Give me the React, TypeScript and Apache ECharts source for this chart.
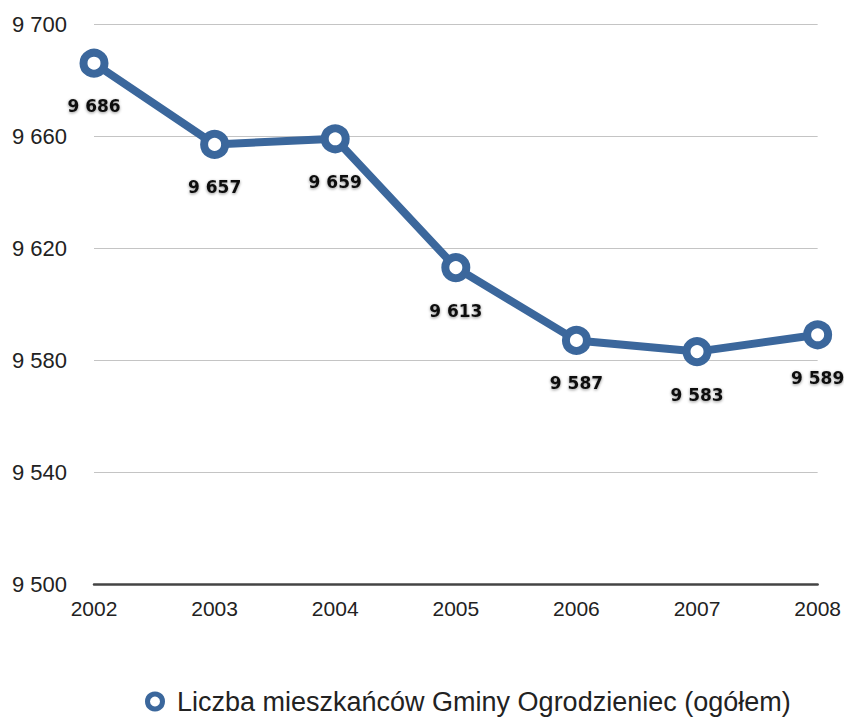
import React, { useEffect, useRef } from "react";
import * as echarts from "echarts";

const years = ["2002", "2003", "2004", "2005", "2006", "2007", "2008"];
const residents = [9686, 9657, 9659, 9613, 9587, 9583, 9589];
const seriesName = "Liczba mieszkańców Gminy Ogrodzieniec (ogółem)";

const fmt = (v: number) => {
  const s = String(Math.round(v));
  return s.replace(/\B(?=(\d{3})+(?!\d))/g, " ");
};

export default function App() {
  const ref = useRef<HTMLDivElement>(null);
  useEffect(() => {
    const chart = echarts.init(ref.current!, null, { renderer: "svg" });
    const font = "'Liberation Sans', Arial, Helvetica, sans-serif";
    const blue = "#3b679c";
    chart.setOption({
      animation: false,
      backgroundColor: "#ffffff",
      textStyle: { fontFamily: font },
      grid: { left: 94, right: 26, top: 24, bottom: 134, containLabel: false },
      xAxis: {
        type: "category",
        data: years,
        boundaryGap: false,
        axisLine: { show: true, lineStyle: { color: "#444", width: 2.5 } },
        axisTick: { show: false },
        axisLabel: { color: "#222", fontSize: 21, margin: 14, fontFamily: font },
        splitLine: { show: false },
      },
      yAxis: {
        type: "value",
        min: 9500,
        max: 9700,
        interval: 40,
        axisLine: { show: false },
        axisTick: { show: false },
        axisLabel: {
          color: "#222",
          fontSize: 22,
          margin: 27,
          fontFamily: font,
          formatter: (v: number) => fmt(v),
        },
        splitLine: { show: true, lineStyle: { color: "#c4c4c4", width: 1.2 } },
      },
      legend: {
        top: 688,
        left: 145,
        padding: 0,
        itemWidth: 18,
        itemHeight: 15,
        itemGap: 10,
        textStyle: { color: "#222", fontSize: 27, fontFamily: font, padding: [0, 0, 0, 8] },
        data: [
          {
            name: seriesName,
            icon: "circle",
            itemStyle: { color: "#ffffff", borderColor: blue, borderWidth: 5 },
          },
        ],
      },
      series: [
        {
          name: seriesName,
          type: "line",
          data: residents,
          symbol: "circle",
          symbolSize: 21,
          lineStyle: { color: blue, width: 8 },
          itemStyle: { color: "#ffffff", borderColor: blue, borderWidth: 8 },
          label: {
            show: true,
            position: "bottom",
            distance: 20,
            color: "#111",
            fontSize: 17,
            fontWeight: 600,
            fontFamily: "'DejaVu Sans', sans-serif",
            textShadowColor: "rgba(0,0,0,0.45)",
            textShadowBlur: 3,
            textShadowOffsetY: 1,
            formatter: (p: any) => fmt(p.value),
          },
        },
      ],
    });
    return () => chart.dispose();
  }, []);
  return (
    <div
      ref={ref}
      style={{ position: "fixed", left: 0, top: 0, width: 844, height: 718 }}
    />
  );
}
